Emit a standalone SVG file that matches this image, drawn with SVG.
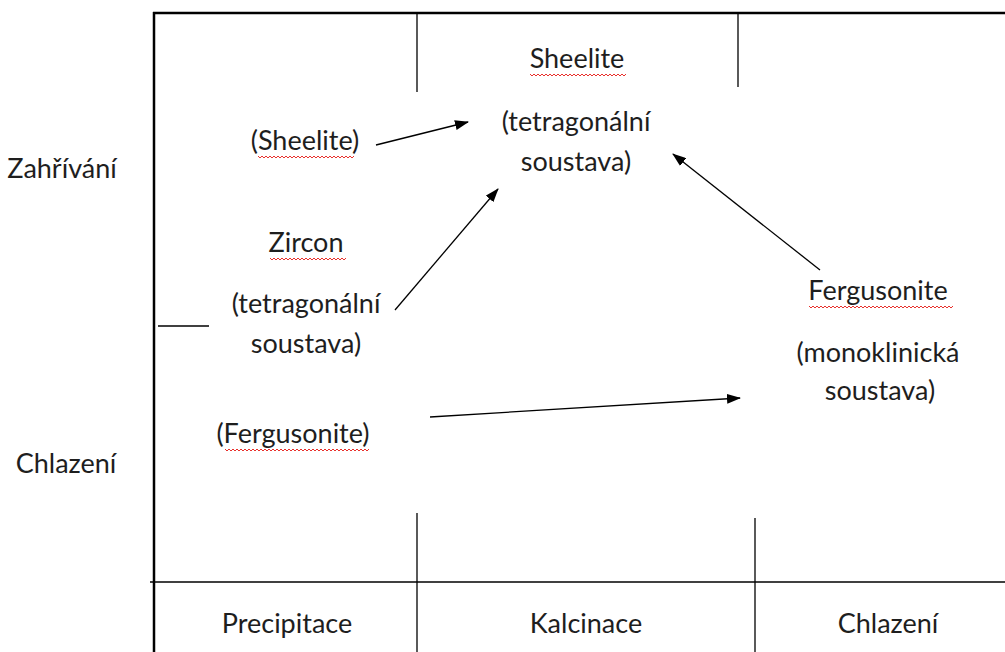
<svg xmlns="http://www.w3.org/2000/svg" width="1005" height="652" viewBox="0 0 1005 652">
<defs>
<marker id="ah" markerWidth="14" markerHeight="10" refX="13" refY="5" orient="auto" markerUnits="userSpaceOnUse">
<path d="M0,0 L14,5 L0,10 Z" fill="#000"/>
</marker>
<style>
.t{font-family:Lato,"Liberation Sans",sans-serif;font-size:27px;fill:#1e1e1e;text-anchor:middle}
.ln{stroke:#000;fill:none}
.sq{stroke:#e8302c;stroke-width:1;fill:none}
.ar{stroke:#000;stroke-width:1.3;fill:none;marker-end:url(#ah)}
</style>
</defs>
<rect width="1005" height="652" fill="#fff"/>
<g id="frame">
<line class="ln" x1="154" y1="12" x2="154" y2="652" stroke-width="2.5"/>
<line class="ln" x1="153" y1="13" x2="1005" y2="13" stroke-width="2.5"/>
<line class="ln" x1="150" y1="582" x2="1005" y2="582" stroke-width="1.5"/>
<line class="ln" x1="417" y1="13" x2="417" y2="92" stroke-width="1.3"/>
<line class="ln" x1="738" y1="13" x2="738" y2="87" stroke-width="1.3"/>
<line class="ln" x1="417" y1="513" x2="417" y2="652" stroke-width="1.3"/>
<line class="ln" x1="755" y1="518" x2="755" y2="652" stroke-width="1.3"/>
<line class="ln" x1="158" y1="326" x2="209" y2="326" stroke-width="1.3"/>
</g>
<g id="axis-labels">
<text class="t" x="62" y="178">Zahřívání</text>
<text class="t" x="66" y="473">Chlazení</text>
<text class="t" x="287" y="633">Precipitace</text>
<text class="t" x="586" y="633">Kalcinace</text>
<text class="t" x="888" y="633">Chlazení</text>
</g>
<g id="node-sheelite-tetra">
<text class="t" x="577" y="68">Sheelite</text>
<path class="sq" d="M530,74 l2,2 l2,-2 l2,2 l2,-2 l2,2 l2,-2 l2,2 l2,-2 l2,2 l2,-2 l2,2 l2,-2 l2,2 l2,-2 l2,2 l2,-2 l2,2 l2,-2 l2,2 l2,-2 l2,2 l2,-2 l2,2 l2,-2 l2,2 l2,-2 l2,2 l2,-2 l2,2 l2,-2 l2,2 l2,-2 l2,2 l2,-2 l2,2 l2,-2 l2,2 l2,-2 l2,2 l2,-2 l2,2 l2,-2 l2,2 l2,-2 l2,2 l2,-2 l2,2 l2,-2"/>
<text class="t" x="576" y="131">(tetragonální</text>
<text class="t" x="576" y="171">soustava)</text>
</g>
<g id="node-sheelite">
<text class="t" x="305" y="150">(Sheelite)</text>
<path class="sq" d="M258,156 l2,2 l2,-2 l2,2 l2,-2 l2,2 l2,-2 l2,2 l2,-2 l2,2 l2,-2 l2,2 l2,-2 l2,2 l2,-2 l2,2 l2,-2 l2,2 l2,-2 l2,2 l2,-2 l2,2 l2,-2 l2,2 l2,-2 l2,2 l2,-2 l2,2 l2,-2 l2,2 l2,-2 l2,2 l2,-2 l2,2 l2,-2 l2,2 l2,-2 l2,2 l2,-2 l2,2 l2,-2 l2,2 l2,-2 l2,2 l2,-2 l2,2 l2,-2 l2,2 l2,-2"/>
</g>
<g id="node-zircon">
<text class="t" x="306" y="252">Zircon</text>
<path class="sq" d="M270,258 l2,2 l2,-2 l2,2 l2,-2 l2,2 l2,-2 l2,2 l2,-2 l2,2 l2,-2 l2,2 l2,-2 l2,2 l2,-2 l2,2 l2,-2 l2,2 l2,-2 l2,2 l2,-2 l2,2 l2,-2 l2,2 l2,-2 l2,2 l2,-2 l2,2 l2,-2 l2,2 l2,-2 l2,2 l2,-2 l2,2 l2,-2 l2,2 l2,-2 l2,2 l2,-2"/>
<text class="t" x="306" y="313">(tetragonální</text>
<text class="t" x="306" y="353">soustava)</text>
</g>
<g id="node-fergusonite-left">
<text class="t" x="293" y="443">(Fergusonite)</text>
<path class="sq" d="M225,449 l2,2 l2,-2 l2,2 l2,-2 l2,2 l2,-2 l2,2 l2,-2 l2,2 l2,-2 l2,2 l2,-2 l2,2 l2,-2 l2,2 l2,-2 l2,2 l2,-2 l2,2 l2,-2 l2,2 l2,-2 l2,2 l2,-2 l2,2 l2,-2 l2,2 l2,-2 l2,2 l2,-2 l2,2 l2,-2 l2,2 l2,-2 l2,2 l2,-2 l2,2 l2,-2 l2,2 l2,-2 l2,2 l2,-2 l2,2 l2,-2 l2,2 l2,-2 l2,2 l2,-2 l2,2 l2,-2 l2,2 l2,-2 l2,2 l2,-2 l2,2 l2,-2 l2,2 l2,-2 l2,2 l2,-2 l2,2 l2,-2 l2,2 l2,-2 l2,2 l2,-2 l2,2 l2,-2 l2,2 l2,-2 l2,2 l2,-2"/>
</g>
<g id="node-fergusonite-mono">
<text class="t" x="878" y="300">Fergusonite</text>
<path class="sq" d="M809,306 l2,2 l2,-2 l2,2 l2,-2 l2,2 l2,-2 l2,2 l2,-2 l2,2 l2,-2 l2,2 l2,-2 l2,2 l2,-2 l2,2 l2,-2 l2,2 l2,-2 l2,2 l2,-2 l2,2 l2,-2 l2,2 l2,-2 l2,2 l2,-2 l2,2 l2,-2 l2,2 l2,-2 l2,2 l2,-2 l2,2 l2,-2 l2,2 l2,-2 l2,2 l2,-2 l2,2 l2,-2 l2,2 l2,-2 l2,2 l2,-2 l2,2 l2,-2 l2,2 l2,-2 l2,2 l2,-2 l2,2 l2,-2 l2,2 l2,-2 l2,2 l2,-2 l2,2 l2,-2 l2,2 l2,-2 l2,2 l2,-2 l2,2 l2,-2 l2,2 l2,-2 l2,2 l2,-2 l2,2 l2,-2 l2,2 l2,-2"/>
<text class="t" x="878" y="362">(monoklinická</text>
<text class="t" x="880" y="400">soustava)</text>
</g>
<g id="connectors">
<line class="ar" x1="376" y1="145" x2="468" y2="122"/>
<line class="ar" x1="395" y1="310" x2="498" y2="189"/>
<line class="ar" x1="820" y1="270" x2="673" y2="154"/>
<line class="ar" x1="430" y1="417" x2="740" y2="398"/>
</g>
</svg>
